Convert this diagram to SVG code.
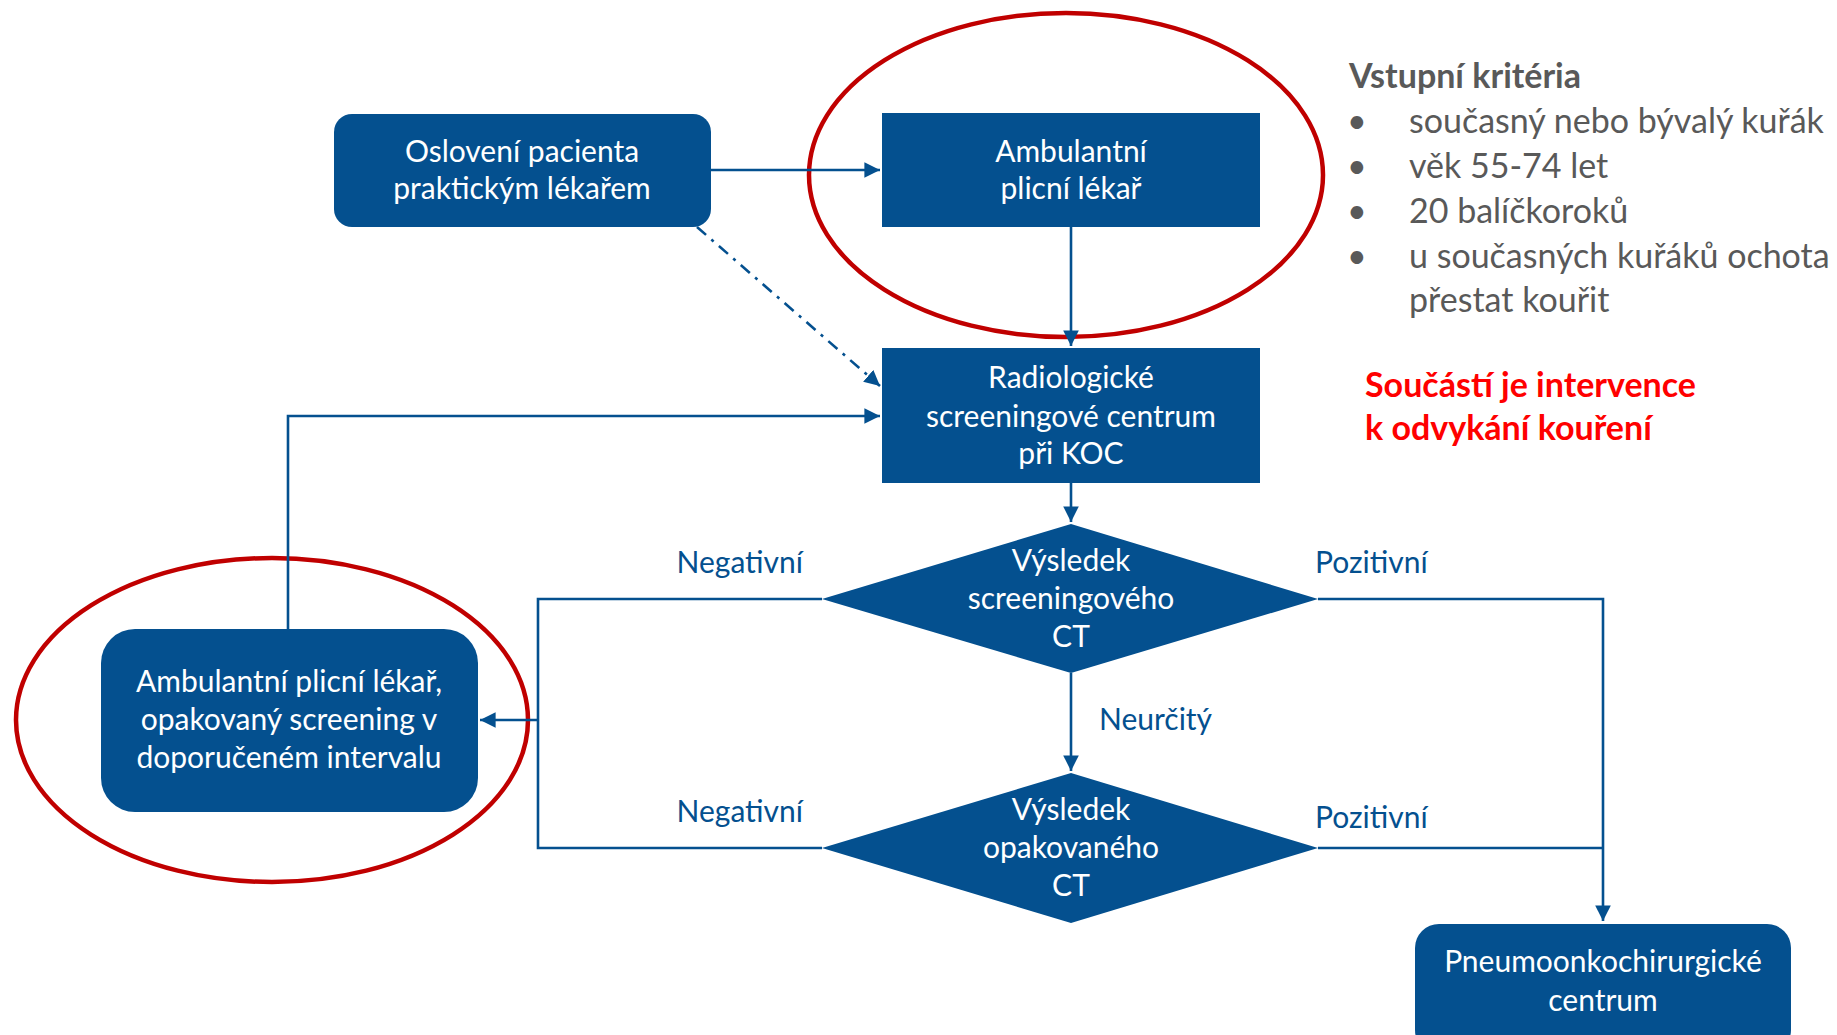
<svg xmlns="http://www.w3.org/2000/svg" width="1837" height="1035" viewBox="0 0 1837 1035">
<style>
.node{fill:#04508F}
.nt{font-family:Lato,"Open Sans",sans-serif;font-size:30px;fill:#FFFFFF;text-anchor:middle}
.lbl{font-family:Lato,"Open Sans",sans-serif;font-size:30px;fill:#04508F}
.con{fill:none;stroke:#04508F;stroke-width:2.6}
.hl{fill:none;stroke:#C00000;stroke-width:4.5}
.side{font-family:Lato,"Open Sans",sans-serif;font-size:34px;fill:#595959}
.red{font-family:Lato,"Open Sans",sans-serif;font-size:34px;font-weight:bold;fill:#FF0000}
</style>
<defs>
<marker id="arr" viewBox="0 0 10 10" refX="10" refY="5" markerWidth="6" markerHeight="6" markerUnits="strokeWidth" orient="auto">
<path d="M0,0 L10,5 L0,10 z" fill="#04508F"/>
</marker>
</defs>
<rect width="1837" height="1035" fill="#FFFFFF"/>

<g id="highlights">
<ellipse class="hl" cx="1066" cy="175" rx="257" ry="162"/>
<ellipse class="hl" cx="272" cy="720" rx="256" ry="162"/>
</g>

<g id="connectors">
<line class="con" x1="711" y1="170" x2="880" y2="170" marker-end="url(#arr)"/>
<line class="con" x1="1071" y1="227" x2="1071" y2="346" marker-end="url(#arr)"/>
<line class="con" x1="697" y1="227" x2="880" y2="386" stroke-dasharray="12 7 3 7" marker-end="url(#arr)"/>
<polyline class="con" points="288,629 288,416 880,416" marker-end="url(#arr)"/>
<line class="con" x1="1071" y1="483" x2="1071" y2="522" marker-end="url(#arr)"/>
<line class="con" x1="1071" y1="673" x2="1071" y2="771" marker-end="url(#arr)"/>
<polyline class="con" points="822,599 538,599 538,848 822,848"/>
<line class="con" x1="538" y1="720" x2="480" y2="720" marker-end="url(#arr)"/>
<polyline class="con" points="1318,599 1603,599 1603,921" marker-end="url(#arr)"/>
<line class="con" x1="1318" y1="848" x2="1603" y2="848"/>
<text class="lbl" x="803" y="573" text-anchor="end">Negativní</text>
<text class="lbl" x="803" y="822" text-anchor="end">Negativní</text>
<text class="lbl" x="1315" y="573">Pozitivní</text>
<text class="lbl" x="1315" y="828">Pozitivní</text>
<text class="lbl" x="1099" y="730">Neurčitý</text>
</g>

<g id="node-osloveni">
<rect class="node" x="334" y="114" width="377" height="113" rx="18"/>
<text class="nt" x="522" y="162">Oslovení pacienta</text>
<text class="nt" x="522" y="199">praktickým lékařem</text>
</g>

<g id="node-ambulantni">
<rect class="node" x="882" y="113" width="378" height="114"/>
<text class="nt" x="1071" y="162">Ambulantní</text>
<text class="nt" x="1071" y="199">plicní lékař</text>
</g>

<g id="node-radiologicke">
<rect class="node" x="882" y="348" width="378" height="135"/>
<text class="nt" x="1071" y="388">Radiologické</text>
<text class="nt" x="1071" y="427">screeningové centrum</text>
<text class="nt" x="1071" y="464">při KOC</text>
</g>

<g id="node-vysledek-screening">
<polygon class="node" points="1071,524 1318,599 1071,673 822,599"/>
<text class="nt" x="1071" y="571">Výsledek</text>
<text class="nt" x="1071" y="609">screeningového</text>
<text class="nt" x="1071" y="647">CT</text>
</g>

<g id="node-vysledek-opakovany">
<polygon class="node" points="1071,773 1318,848 1071,923 822,848"/>
<text class="nt" x="1071" y="820">Výsledek</text>
<text class="nt" x="1071" y="858">opakovaného</text>
<text class="nt" x="1071" y="896">CT</text>
</g>

<g id="node-opakovany-screening">
<rect class="node" x="101" y="629" width="377" height="183" rx="34"/>
<text class="nt" x="289" y="692">Ambulantní plicní lékař,</text>
<text class="nt" x="289" y="730">opakovaný screening v</text>
<text class="nt" x="289" y="768">doporučeném intervalu</text>
</g>

<g id="node-pneumoonko">
<rect class="node" x="1415" y="924" width="376" height="130" rx="24"/>
<text class="nt" x="1603" y="972">Pneumoonkochirurgické</text>
<text class="nt" x="1603" y="1011">centrum</text>
</g>

<g id="criteria">
<text class="side" x="1349" y="88" font-weight="bold">Vstupní kritéria</text>
<text class="side" x="1347" y="133">•</text>
<text class="side" x="1409" y="133">současný nebo bývalý kuřák</text>
<text class="side" x="1347" y="178">•</text>
<text class="side" x="1409" y="178">věk 55-74 let</text>
<text class="side" x="1347" y="223">•</text>
<text class="side" x="1409" y="223">20 balíčkoroků</text>
<text class="side" x="1347" y="268">•</text>
<text class="side" x="1409" y="268">u současných kuřáků ochota</text>
<text class="side" x="1409" y="312">přestat kouřit</text>
<text class="red" x="1365" y="397">Součástí je intervence</text>
<text class="red" x="1365" y="440">k odvykání kouření</text>
</g>
</svg>
